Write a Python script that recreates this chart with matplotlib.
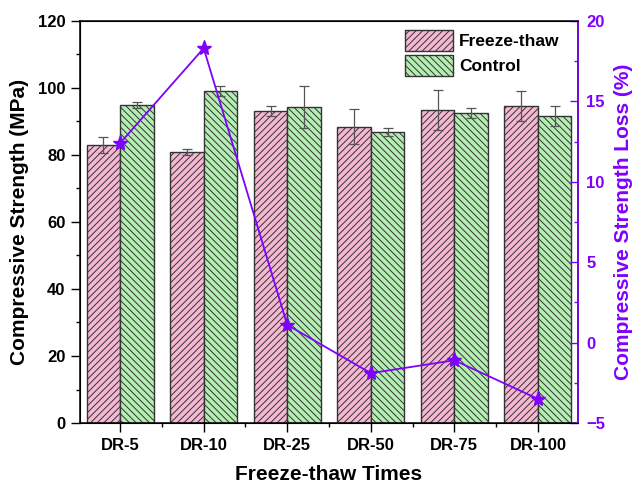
import matplotlib
matplotlib.use("Agg")
import matplotlib.pyplot as plt
import numpy as np

categories = ["DR-5", "DR-10", "DR-25", "DR-50", "DR-75", "DR-100"]
freeze_thaw = [83.0, 80.9, 93.1, 88.4, 93.4, 94.6]
freeze_thaw_err = [2.4, 0.9, 1.6, 5.2, 6.0, 4.4]
control = [94.9, 99.1, 94.2, 86.9, 92.4, 91.5]
control_err = [0.75, 1.6, 6.3, 1.1, 1.5, 3.0]
loss = [12.4, 18.3, 1.1, -1.9, -1.1, -3.5]

plt.rcParams['font.family'] = ['Liberation Sans', 'DejaVu Sans']
plt.rcParams['font.weight'] = 'bold'
plt.rcParams['hatch.linewidth'] = 0.7
plt.rcParams['hatch.color'] = '#444444'

purple = '#8000FF'
fig = plt.figure(figsize=(6.32, 4.86), dpi=100)
ax = fig.add_axes([0.1266, 0.1296, 0.7880, 0.8274])

x = np.arange(len(categories))
w = 0.4
ax.bar(x - w/2, freeze_thaw, w, color='#F5B8D2', edgecolor='#333333', linewidth=1.0,
       hatch='/////', label='Freeze-thaw', zorder=2)
ax.bar(x + w/2, control, w, color='#B5EEB2', edgecolor='#333333', linewidth=1.0,
       hatch='\\\\\\\\\\', label='Control', zorder=2)
ax.errorbar(x - w/2, freeze_thaw, yerr=freeze_thaw_err, fmt='none', ecolor='#555555',
            elinewidth=0.9, capsize=3.5, capthick=0.9, zorder=3)
ax.errorbar(x + w/2, control, yerr=control_err, fmt='none', ecolor='#555555',
            elinewidth=0.9, capsize=3.5, capthick=0.9, zorder=3)

ax.set_xlim(-0.48, 5.48)
ax.set_ylim(0, 120)
ax.set_yticks(np.arange(0, 121, 20))
ax.set_yticks(np.arange(10, 120, 20), minor=True)
ax.set_xticks(x)
ax.set_xticklabels(categories)
ax.set_xticks(x[:-1] + 0.5, minor=True)
ax.tick_params(axis='both', which='major', direction='out', length=6.5, width=1,
               labelsize=12, pad=4)
ax.tick_params(axis='both', which='minor', direction='out', length=3, width=1)
ax.tick_params(axis='x', which='both', top=False)
ax.set_xlabel('Freeze-thaw Times', fontsize=15, fontweight='bold', labelpad=9)
ax.set_ylabel('Compressive Strength (MPa)', fontsize=15, fontweight='bold', labelpad=6)
for s in ax.spines.values():
    s.set_linewidth(1.1)

leg = ax.legend(loc='upper left', bbox_to_anchor=(389/632, 1 - 14/486),
                bbox_transform=fig.transFigure, frameon=False,
                fontsize=12.5, handlelength=2.8, handleheight=1.5, labelspacing=0.25,
                handletextpad=0.35, borderpad=0.4)

ax2 = ax.twinx()
ax2.plot(x, loss, color=purple, linewidth=1.3, marker='*', markersize=11, zorder=5)
ax2.set_ylim(-5, 20)
ax2.set_yticks(np.arange(-5, 21, 5))
ax2.set_yticks(np.arange(-2.5, 20, 5), minor=True)
ax2.tick_params(axis='y', which='major', direction='in', length=6, width=1,
                colors=purple, labelsize=12, pad=6)
ax2.tick_params(axis='y', which='minor', direction='in', length=3, width=1, colors=purple)
ax2.spines['right'].set_color(purple)
ax2.spines['right'].set_linewidth(1.1)
ax2.set_ylabel('Compressive Strength Loss (%)', fontsize=15, fontweight='bold',
               color=purple, labelpad=6)
for lab in ax2.get_yticklabels():
    lab.set_fontweight('bold')

fig.savefig('out.png', dpi=100)
